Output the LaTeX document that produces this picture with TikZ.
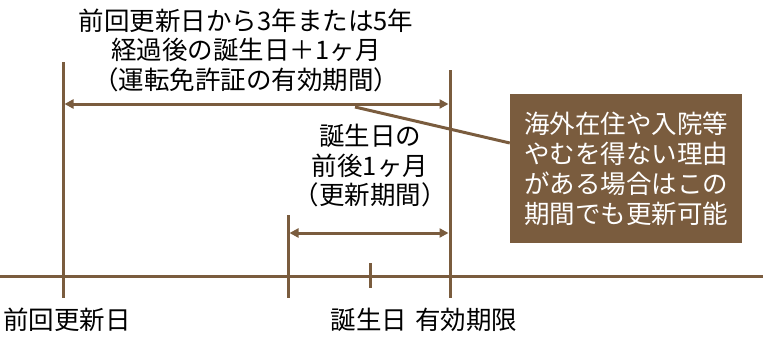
\documentclass[tikz,border=0pt]{standalone}
\usepackage{fontspec}
\setmainfont{Noto Sans CJK JP}
\usetikzlibrary{arrows.meta}
\definecolor{brn}{HTML}{7A5C3E}
\tikzset{
  ln/.style={draw=brn, line width=3pt},
  dim/.style={draw=brn, line width=3pt, {Triangle[length=9pt,width=9pt]}-{Triangle[length=9pt,width=9pt]}, shorten <=1.5pt, shorten >=1.5pt},
  lbl/.style={font=\fontsize{25.5}{29.5}\selectfont, align=center, inner sep=0pt},
  box/.style={fill=brn, text=white, font=\fontsize{25.5}{30}\selectfont, align=center, minimum width=232pt, minimum height=149pt, inner sep=0pt}
}
\begin{document}
\begin{tikzpicture}[x=1pt,y=-1pt]
\useasboundingbox (0,0) rectangle (763,340);
% coordinates
\coordinate (L0) at (0,276);
\coordinate (L1) at (763,276);
\coordinate (A0) at (63,62);
\coordinate (A1) at (63,298);
\coordinate (B0) at (450,70);
\coordinate (B1) at (450,298);
\coordinate (C0) at (288,215);
\coordinate (C1) at (288,298);
\coordinate (D0) at (370,263);
\coordinate (D1) at (370,288);
\draw[ln] (L0) -- (L1);
\draw[ln] (A0) -- (A1);
\draw[ln] (B0) -- (B1);
\draw[ln] (C0) -- (C1);
\draw[ln] (D0) -- (D1);
\coordinate (TA) at (63,104);
\coordinate (TB) at (450,104);
\draw[dim] (TA) -- (TB);
\coordinate (UA) at (288,233);
\coordinate (UB) at (450,233);
\draw[dim] (UA) -- (UB);
\node[box] (note) at (626,168.5) {海外在住や入院等\\やむを得ない理由\\がある場合はこの\\期間でも更新可能};
\coordinate (P) at (355,107);
\draw[ln] (P) -- (note.west |- 0,143);
\node[lbl] (top) at (246,50) {前回更新日から3年または5年\\経過後の誕生日＋1ヶ月\\（運転免許証の有効期間）};
\node[lbl] (mid) at (370,166) {誕生日の\\前後1ヶ月\\（更新期間）};
\node[lbl, anchor=west] (s0) at (3,320) {前回更新日};
\node[lbl] (s1) at (369,320) {誕生日};
\node[lbl] (s2) at (466,320) {有効期限};
\end{tikzpicture}
\end{document}
